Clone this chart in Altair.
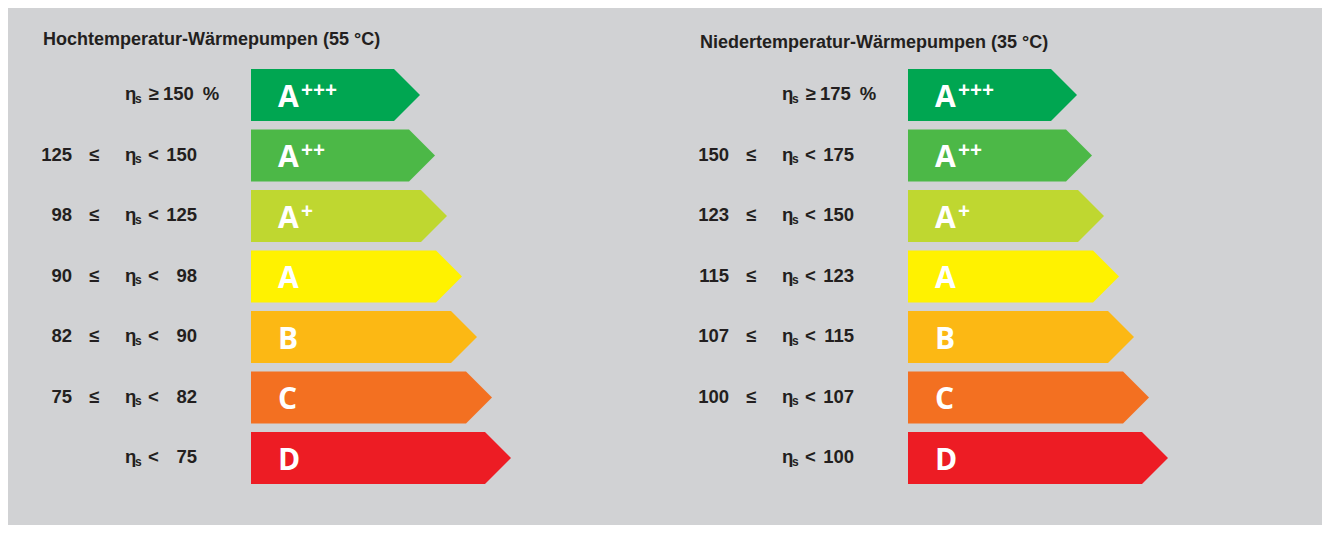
import altair as alt
import pandas as pd

# ---- data ----
classes = ["A+++", "A++", "A+", "A", "B", "C", "D"]
letters = ["A", "A", "A", "A", "B", "C", "D"]
sups = ["+++", "++", "+", "", "", "", ""]
arrow_len = [169, 184, 196, 211, 226, 241, 260]

ht_lower = [150, 125, 98, 90, 82, 75, None]
ht_upper = [None, 150, 125, 98, 90, 82, 75]
nt_lower = [175, 150, 123, 115, 107, 100, None]
nt_upper = [None, 175, 150, 123, 115, 107, 100]

titles = ["Hochtemperatur-Wärmepumpen (55 °C)", "Niedertemperatur-Wärmepumpen (35 °C)"]

# ---- styles ----
palette = ["#00a651", "#4cb847", "#bfd730", "#fff200", "#fcb814", "#f37021", "#ed1c24"]
BG = "#d1d2d4"
INK = "#231f20"
W, H = 640, 517
TIP = 26          # arrow tip depth (x units == px)
HALF = 0.43       # half arrow height in row units
Y0 = -87 / 60.5
YDOM = [Y0, Y0 + H / 60.5]
XDOM = [-231, W - 231]

xs = alt.Scale(domain=XDOM, nice=False, zero=False)
ys = alt.Scale(domain=YDOM, reverse=True, nice=False, zero=False)
LBL_FONT = "Liberation Sans"


def ypos():
    return alt.Y("rank:Q", scale=ys, axis=None)


def panel(title, lower, upper, title_y):
    # arrows as areas
    pts = []
    for i, (c, L) in enumerate(zip(classes, arrow_len)):
        pts.append({"cls": c, "x": 0, "top": i - HALF, "bot": i + HALF})
        pts.append({"cls": c, "x": L - TIP, "top": i - HALF, "bot": i + HALF})
        pts.append({"cls": c, "x": L, "top": i, "bot": i})
    arrows = alt.Chart(pd.DataFrame(pts)).mark_area(interpolate="linear", opacity=1).encode(
        x=alt.X("x:Q", scale=xs, axis=None),
        y=alt.Y("top:Q", scale=ys, axis=None),
        y2="bot:Q",
        color=alt.Color("cls:N", scale=alt.Scale(domain=classes, range=palette), legend=None),
        detail="cls:N",
    )

    rows = pd.DataFrame({
        "rank": list(range(len(classes))),
        "letter": letters,
        "sup": sups,
        "lo": [("" if v is None else str(v)) for v in lower],
        "hi": [("" if v is None else str(v)) for v in upper],
        "op": [("<" if u is not None else "≥") for u in upper],
        "pct": [("" if (u is not None) else f"{l} \u2009%") for l, u in zip(lower, upper)],
        "both": [(l is not None and u is not None) for l, u in zip(lower, upper)],
    })
    base = alt.Chart(rows)

    def lbl(**kw):
        d = dict(font=LBL_FONT, fontWeight="bold", fontSize=18.5, color=INK,
                 baseline="alphabetic", dy=5)
        d.update(kw)
        return d

    lo = base.transform_filter("datum.both").mark_text(**lbl(align="right")).encode(
        x=alt.value(52), y=ypos(), text="lo:N")
    le = base.transform_filter("datum.both").mark_text(**lbl(align="center")).encode(
        x=alt.value(74), y=ypos(), text=alt.value("≤"))
    eta = base.mark_text(**lbl(align="left")).encode(
        x=alt.value(105), y=ypos(), text=alt.value("η"))
    sub = base.mark_text(**lbl(align="left", fontSize=12, dy=7.5)).encode(
        x=alt.value(115), y=ypos(), text=alt.value("s"))
    op = base.mark_text(**lbl(align="center")).encode(
        x=alt.value(133.5), y=ypos(), text="op:N")
    hi = base.transform_filter("datum.hi != ''").mark_text(**lbl(align="right")).encode(
        x=alt.value(177), y=ypos(), text="hi:N")
    pct = base.transform_filter("datum.pct != ''").mark_text(**lbl(align="left")).encode(
        x=alt.value(143), y=ypos(), text="pct:N")

    let = base.mark_text(font="Open Sans", fontWeight="bold", fontSize=30, color="white",
                         align="left", baseline="alphabetic", dy=11.5).encode(
        x=alt.value(258), y=ypos(), text="letter:N")
    sup = base.transform_filter("datum.sup != ''").mark_text(
        font="Open Sans", fontWeight="bold", fontSize=21, color="white",
        align="left", baseline="alphabetic", dy=1.5).encode(
        x=alt.value(281), y=ypos(), text="sup:N")

    ttl = alt.Chart(pd.DataFrame({"t": [title]})).mark_text(
        font=LBL_FONT, fontWeight="bold", fontSize=18, color=INK,
        align="left", baseline="alphabetic").encode(
        x=alt.value(23), y=alt.value(title_y), text="t:N")

    return alt.layer(arrows, lo, le, eta, sub, op, hi, pct, let, sup, ttl).properties(
        width=W, height=H)


left = panel(titles[0], ht_lower, ht_upper, 37)
right = panel(titles[1], nt_lower, nt_upper, 39.5)

chart = alt.hconcat(left, right, spacing=17).properties(
    padding={"left": 12, "top": 0, "right": 5, "bottom": 0},
    background=BG,
).configure_view(stroke=None)

chart.save("out.html", embed_options={"renderer": "svg", "actions": False})
